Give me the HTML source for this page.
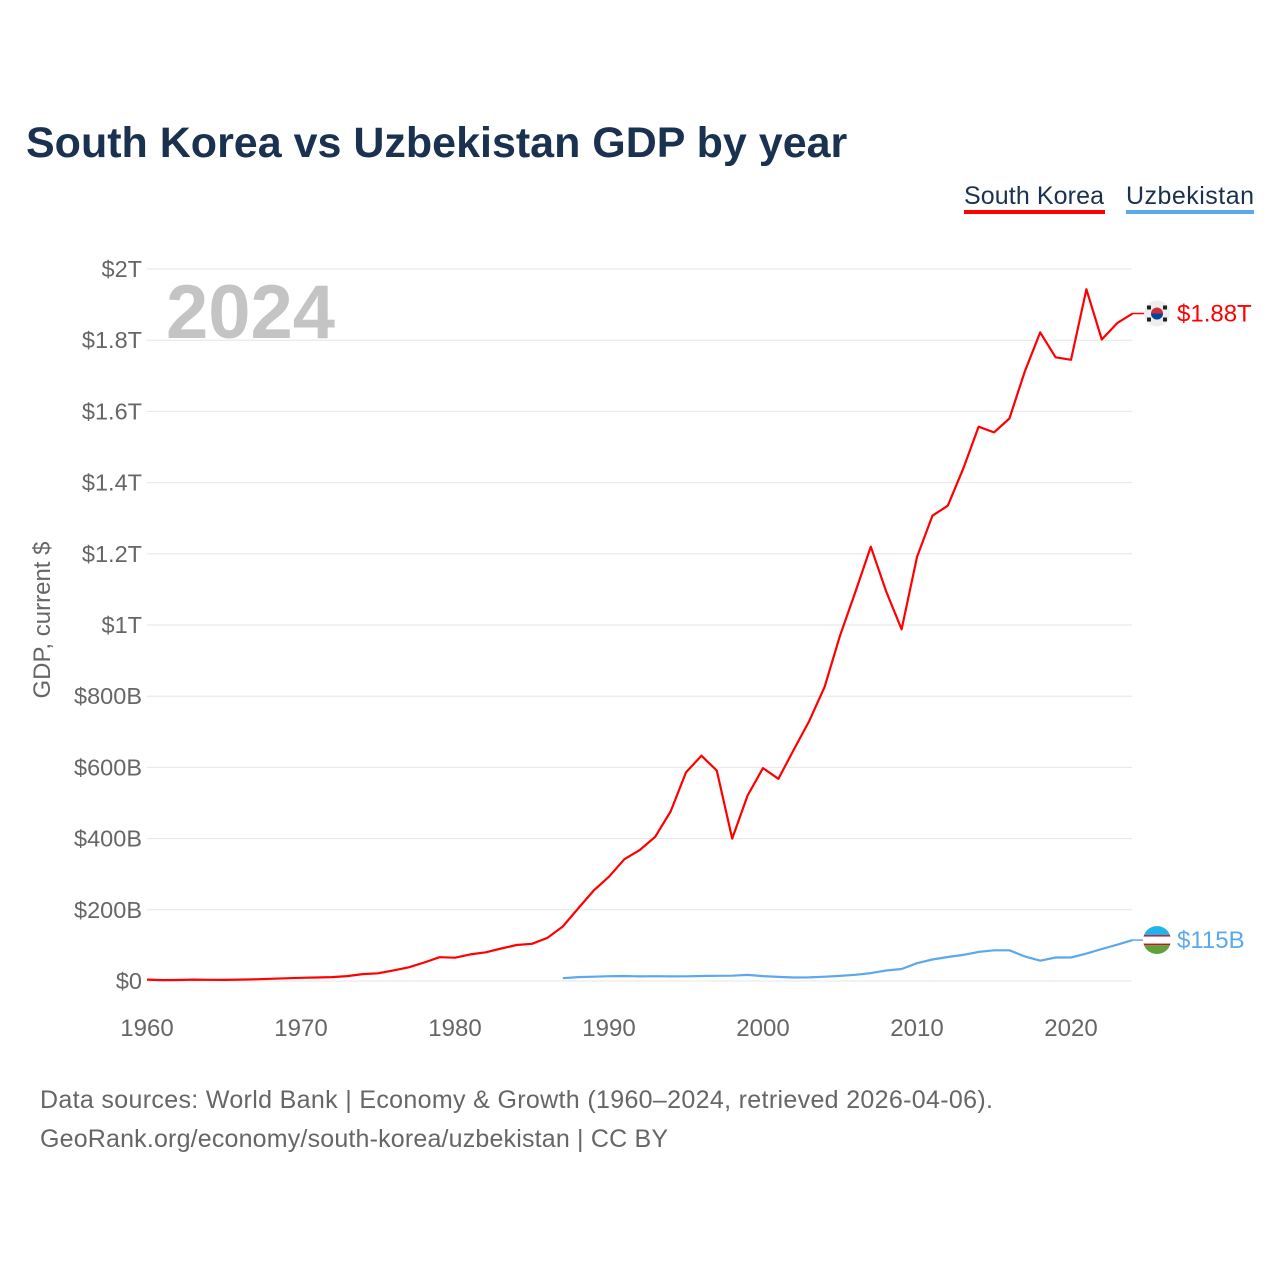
<!DOCTYPE html>
<html><head><meta charset="utf-8">
<style>
body{margin:0;background:#fff;font-family:"Liberation Sans",sans-serif;}
#wrap{position:relative;width:1280px;height:1280px;}
</style></head>
<body>
<div id="wrap">
<svg id="chart" width="1280" height="1280" xmlns="http://www.w3.org/2000/svg">
<text x="26" y="157" font-size="43" font-weight="bold" fill="#1a3150">South Korea vs Uzbekistan GDP by year</text>
<g>
<text x="1104" y="204" font-size="25" fill="#1a3150" text-anchor="end" textLength="140">South Korea</text>
<rect x="964" y="210" width="141" height="4" fill="#ff0000"/></g>
<g>
<text x="1254" y="204" font-size="25" fill="#1a3150" text-anchor="end" textLength="128">Uzbekistan</text>
<rect x="1126" y="210" width="128" height="4" fill="#5ba8ee"/></g>
<text x="166" y="338" font-size="76" font-weight="bold" fill="#c4c4c4">2024</text>
<text transform="translate(50,620) rotate(-90)" font-size="24" fill="#666" text-anchor="middle">GDP, current $</text>
<g id="grid"></g><g id="yticks"></g><g id="xticks"></g><g id="lines"></g>
<text x="40" y="1108" font-size="25" fill="#666" textLength="953">Data sources: World Bank | Economy &amp; Growth (1960–2024, retrieved 2026-04-06).</text>
<text x="40" y="1147" font-size="25" fill="#666" textLength="628">GeoRank.org/economy/south-korea/uzbekistan | CC BY</text>
</svg>
</div>
<script>
const krStartYear = 1960;
const krValues = [4,2.4,2.8,3.9,3.5,3.1,3.9,4.9,6.2,7.7,9.0,9.9,10.9,13.8,19.5,21.7,29.8,38.4,52,66.8,65.4,74.7,80.6,91.4,101,104.5,121,153,204,254,293,342,368,405,476,586,633,591,400,521,598,568,650,730,826,970,1093,1220,1094,988,1191,1307,1335,1439,1557,1541,1580,1712,1822,1752,1745,1943,1802,1848,1875];
const uzStartYear = 1987;
const uzValues = [8,11,12,13.4,14,13,13.5,13,13.3,14,14.5,14.8,17,13.8,11.4,9.7,10.1,12,14.3,17.3,22.3,29.5,33.7,49.9,60.3,67.5,73.2,81.8,86.2,86.1,69,57,66,66,77,90,102,115];
const yTickValues = [0,200,400,600,800,1000,1200,1400,1600,1800,2000];
const yTickLabels = ["$0","$200B","$400B","$600B","$800B","$1T","$1.2T","$1.4T","$1.6T","$1.8T","$2T"];
const xTickYears = [1960,1970,1980,1990,2000,2010,2020];
const endLabels = ["$1.88T","$115B"];

const NS="http://www.w3.org/2000/svg";
const xS = y => 147 + (y-1960)*15.4;
const yS = v => 981 - v*(712/2000);
function mk(tag, attrs, parent){const e=document.createElementNS(NS,tag);for(const k in attrs)e.setAttribute(k,attrs[k]);parent.appendChild(e);return e;}
const grid=document.getElementById('grid'), yt=document.getElementById('yticks'), xt=document.getElementById('xticks'), lines=document.getElementById('lines');
yTickValues.forEach((v,i)=>{
  const l=mk('line',{x1:147,x2:1132,y1:yS(v),y2:yS(v),stroke:'#e6e6e6','stroke-width':1},grid);
  
  
  const t=mk('text',{x:142,y:yS(v)+8,'font-size':23.5,fill:'#666','text-anchor':'end'},yt);
  t.textContent=yTickLabels[i];
  
  
});
xTickYears.forEach(y=>{
  const t=mk('text',{x:xS(y),y:1036,'font-size':24,fill:'#666','text-anchor':'middle'},xt);
  t.textContent=y;
  
  
});
function series(start, vals, color, name){
  const d=vals.map((v,i)=>(i?'L':'M')+xS(start+i).toFixed(1)+','+yS(v).toFixed(1)).join('');
  const p=mk('path',{d:d,fill:'none',stroke:color,'stroke-width':2.2,'stroke-linejoin':'round'},lines);
  
  
  const ly=yS(vals[vals.length-1]);
  mk('line',{x1:xS(start+vals.length-1),x2:1146,y1:ly,y2:ly,stroke:color,'stroke-width':1.5},lines);
  return ly;
}
const krY=series(krStartYear,krValues,'#ff0000','south-korea-line');
const uzY=series(uzStartYear,uzValues,'#5ba8ee','uzbekistan-line');
const f1=mk('g',{},lines);


mk('circle',{cx:1157,cy:krY,r:13,fill:'#eee'},f1);
mk('circle',{cx:1157,cy:krY,r:6,fill:'#cd2e3a'},f1);
mk('path',{d:`M1151,${krY} A6,6 0 0,0 1163,${krY} Z`,fill:'#0047a0'},f1);
[[-8,-6],[8,-6],[-8,6],[8,6]].forEach(o=>mk('rect',{x:1157+o[0]-2,y:krY+o[1]-2,width:4,height:4,fill:'#222'},f1));
const f2=mk('g',{},lines);


const cp=mk('clipPath',{id:'uzc'},f2);
mk('circle',{cx:1157,cy:uzY,r:14},cp);
const gg=mk('g',{'clip-path':'url(#uzc)'},f2);
mk('rect',{x:1143,y:uzY-14,width:28,height:9,fill:'#1eb5ea'},gg);
mk('rect',{x:1143,y:uzY-5,width:28,height:10,fill:'#fff'},gg);
mk('rect',{x:1143,y:uzY-5,width:28,height:1.5,fill:'#ce1126'},gg);
mk('rect',{x:1143,y:uzY+3.5,width:28,height:1.5,fill:'#ce1126'},gg);
mk('rect',{x:1143,y:uzY+5,width:28,height:9,fill:'#5fa13a'},gg);
const t1=mk('text',{x:1177,y:krY+8,'font-size':24,fill:'#ff0000'},lines);
t1.textContent=endLabels[0];


const t2=mk('text',{x:1177,y:uzY+8,'font-size':24,fill:'#5ba8ee'},lines);
t2.textContent=endLabels[1];


</script>
</body></html>
